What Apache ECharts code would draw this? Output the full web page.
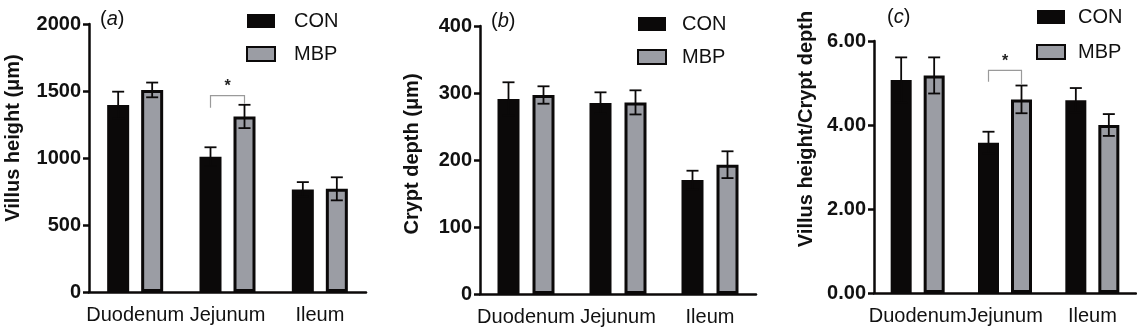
<!DOCTYPE html>
<html>
<head>
<meta charset="utf-8">
<script src="https://cdn.jsdelivr.net/npm/echarts@6/dist/echarts.min.js"></script>
<style>
  html, body { margin: 0; padding: 0; background: #fff; }
  #chart { width: 1137px; height: 331px; }
</style>
</head>
<body>
<div id="chart"></div>
<script>
// ── data ─────────────────────────────────────────────
const categories = ['Duodenum', 'Jejunum', 'Ileum']
const groups = ['CON', 'MBP']

const villusCon   = [1395, 1010, 765]
const villusConSd = [100, 70, 55]
const villusMbp   = [1508, 1310, 770]
const villusMbpSd = [55, 87, 86]

const cryptCon   = [291, 285, 170]
const cryptConSd = [25, 16, 14]
const cryptMbp   = [297, 286, 193]
const cryptMbpSd = [13, 18, 20]

const ratioCon   = [5.07, 3.58, 4.59]
const ratioConSd = [0.54, 0.26, 0.29]
const ratioMbp   = [5.18, 4.61, 4.00]
const ratioMbpSd = [0.43, 0.33, 0.26]

// significance bracket: [category, left leg bottom, top, right leg bottom]
const bracketA = [1, 1375, 1465, 1405]
const bracketC = [1, 5.03, 5.30, 4.95]

const FONT = '"Liberation Sans", Arial, sans-serif'
const BLACK = '#0b0909'
const GREY = '#9b9da4'

// per-panel layout
const panels = [
  { left: 89,  top: 24, width: 277, height: 268, barW: 22, gap: 12, max: 2000, interval: 500,
    name: 'Villus height (μm)', namePad: 40, nameGap: 66, fmt: v => String(v),
    con: villusCon, conSd: villusConSd, mbp: villusMbp, mbpSd: villusMbpSd, bracket: bracketA },
  { left: 480, top: 26, width: 276, height: 268, barW: 22, gap: 13, max: 400, interval: 100,
    name: 'Crypt depth (μm)', namePad: 12, nameGap: 58, fmt: v => String(v),
    con: cryptCon, conSd: cryptConSd, mbp: cryptMbp, mbpSd: cryptMbpSd, bracket: null },
  { left: 874, top: 41, width: 262, height: 252, barW: 21, gap: 12, max: 6, interval: 2,
    name: 'Villus height/Crypt depth', namePad: 76, nameGap: 58, fmt: v => v.toFixed(2),
    con: ratioCon, conSd: ratioConSd, mbp: ratioMbp, mbpSd: ratioMbpSd, bracket: bracketC },
]

function errorBarSeries(gi, values, sds, offset) {
  return {
    type: 'custom', name: 'err' + gi + offset, xAxisIndex: gi, yAxisIndex: gi, z: 5,
    silent: true,
    data: values.map((v, i) => [i, v, sds[i]]),
    renderItem: (params, api) => {
      const i = api.value(0), v = api.value(1), sd = api.value(2)
      const x = api.coord([i, v])[0] + offset
      const hi = api.coord([i, v + sd])[1]
      const lo = api.coord([i, v - sd])[1]
      const cap = 6
      const style = { stroke: BLACK, lineWidth: 1.8, fill: null }
      return {
        type: 'group',
        children: [
          { type: 'line', shape: { x1: x, y1: hi, x2: x, y2: lo }, style },
          { type: 'line', shape: { x1: x - cap, y1: hi, x2: x + cap, y2: hi }, style },
          { type: 'line', shape: { x1: x - cap, y1: lo, x2: x + cap, y2: lo }, style },
        ],
      }
    },
  }
}

function bracketSeries(gi, bracket, offset) {
  return {
    type: 'custom', name: 'sig' + gi, xAxisIndex: gi, yAxisIndex: gi, z: 6,
    silent: true,
    data: [bracket],
    renderItem: (params, api) => {
      const i = api.value(0)
      const cx = api.coord([i, 0])[0]
      const yl = api.coord([i, api.value(1)])[1]
      const yt = api.coord([i, api.value(2)])[1]
      const yr = api.coord([i, api.value(3)])[1]
      return {
        type: 'group',
        children: [
          { type: 'polyline',
            shape: { points: [[cx - offset, yl], [cx - offset, yt], [cx + offset, yt], [cx + offset, yr]] },
            style: { stroke: '#9a9a9a', lineWidth: 1.2, fill: null } },
          { type: 'text',
            style: { text: '*', x: cx, y: yt - 1, align: 'center', verticalAlign: 'bottom',
              font: 'bold 16px ' + FONT, fill: '#222' } },
        ],
      }
    },
  }
}

const grid = [], xAxis = [], yAxis = [], series = [], legend = []

panels.forEach((p, gi) => {
  const offset = (p.barW + p.gap) / 2
  grid.push({ left: p.left, top: p.top, width: p.width, height: p.height, containLabel: false })
  xAxis.push({
    type: 'category', gridIndex: gi, data: categories,
    axisLine: { lineStyle: { color: BLACK, width: 2.5 } },
    axisTick: { alignWithLabel: true, length: 8, lineStyle: { color: BLACK, width: 2.5 } },
    axisLabel: { color: '#111', fontSize: 20, fontFamily: FONT, margin: 13, interval: 0 },
    splitLine: { show: false },
  })
  yAxis.push({
    type: 'value', gridIndex: gi, min: 0, max: p.max, interval: p.interval,
    name: p.name, nameLocation: 'middle', nameGap: p.nameGap,
    nameTextStyle: { color: '#111', fontSize: 20, fontWeight: 'bold', fontFamily: FONT,
      padding: [0, 0, 0, p.namePad] },
    axisLine: { show: true, lineStyle: { color: BLACK, width: 2.5 } },
    axisTick: { show: true, length: 6, lineStyle: { color: BLACK, width: 2.5 } },
    axisLabel: { color: '#111', fontSize: 20, fontWeight: 'bold', fontFamily: FONT, margin: 8,
      formatter: p.fmt },
    splitLine: { show: false },
  })
  series.push({
    type: 'bar', name: groups[0], xAxisIndex: gi, yAxisIndex: gi, data: p.con,
    barWidth: p.barW, barGap: (p.gap / p.barW * 100) + '%',
    itemStyle: { color: BLACK },
  })
  series.push({
    type: 'bar', name: groups[1], xAxisIndex: gi, yAxisIndex: gi, data: p.mbp,
    barWidth: p.barW,
    itemStyle: { color: GREY, borderColor: BLACK, borderWidth: 3 },
  })
  series.push(errorBarSeries(gi, p.con, p.conSd, -offset))
  series.push(errorBarSeries(gi, p.mbp, p.mbpSd, offset))
  if (p.bracket) series.push(bracketSeries(gi, p.bracket, offset))
})

const legendPos = [
  { left: 246, top: 11, gap: 13, pad: 14 },
  { left: 637, top: 14, gap: 13, pad: 11 },
  { left: 1036, top: 7, gap: 15, pad: 8 },
]
legendPos.forEach(l => {
  legend.push({
    data: groups, orient: 'vertical', left: l.left, top: l.top, padding: 0,
    itemWidth: 28, itemHeight: 14, itemGap: l.gap, icon: 'rect',
    textStyle: { color: '#111', fontSize: 20, fontFamily: FONT, padding: [0, 0, 0, l.pad] },
    selectedMode: false,
  })
})

const panelTitles = [
  { t: 'a', left: 100, top: 9 },
  { t: 'b', left: 491, top: 11 },
  { t: 'c', left: 887, top: 7 },
]
const title = panelTitles.map(p => ({
  text: '({i|' + p.t + '})', left: p.left, top: p.top, padding: 0,
  textStyle: { fontSize: 20, fontWeight: 'normal', color: '#111', fontFamily: FONT,
    rich: { i: { fontStyle: 'italic', fontSize: 20, color: '#111', fontFamily: FONT } } },
}))

const chart = echarts.init(document.getElementById('chart'), null, { renderer: 'canvas' })
chart.setOption({
  backgroundColor: '#fff',
  animation: false,
  title, grid, xAxis, yAxis, legend, series,
})
</script>
</body>
</html>
